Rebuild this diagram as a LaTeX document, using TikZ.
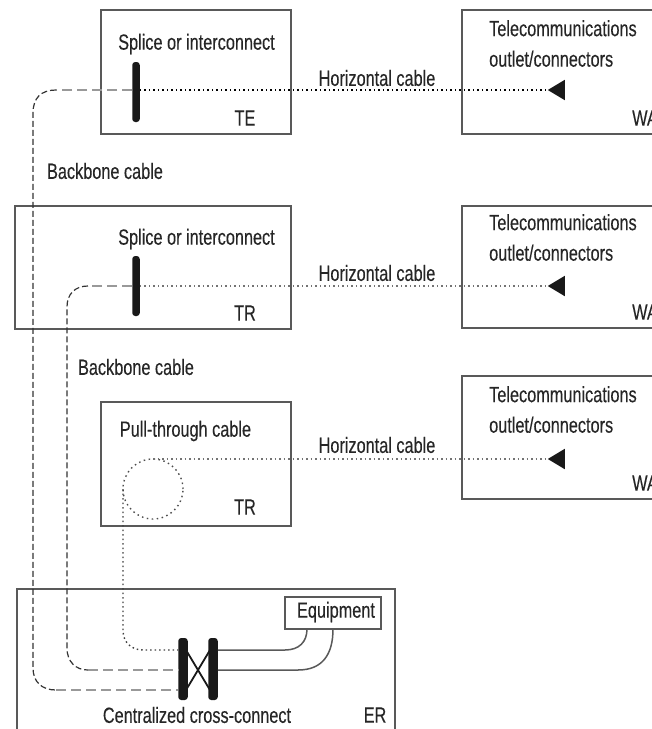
\documentclass[tikz,border=0pt]{standalone}
\usepackage{fontspec}
\usepackage{color}
\usetikzlibrary{shapes.geometric}
\setmainfont[FakeStretch=0.74,FakeBold=0.25]{Liberation Sans}
\definecolor{linegray}{gray}{.35}
\definecolor{cablegray}{gray}{.6}
\tikzset{
 room/.style={draw=linegray, line width=1.4pt, rectangle, inner sep=0pt},
 lbl/.style={inner sep=0pt, text=black!85, font=\fontsize{22}{30.5}\selectfont},
 bar/.style={rectangle, rounded corners=3pt, fill=black!90, inner sep=0pt, minimum width=7.5pt},
 jack/.style={isosceles triangle, isosceles triangle apex angle=62, shape border rotate=180, fill=black!90, inner sep=0pt, minimum height=17pt},
 hdash/.style={draw=cablegray, line width=2pt, dash pattern=on 10pt off 5pt},
 vdash/.style={draw=black!80, line width=1.2pt, dash pattern=on 6pt off 3pt},
 hdot/.style={draw=black!75, line width=1.4pt, dash pattern=on 1.5pt off 3pt},
 patch/.style={draw=linegray, line width=1.5pt},
}
\begin{document}
\begin{tikzpicture}[x=1pt, y=-1pt]
 \path[use as bounding box, clip] (0,0) rectangle (652,729);
 \node (te) [room, minimum width=190pt, minimum height=124pt] at (196,72) {};
 \node (tr1) [room, minimum width=276pt, minimum height=123pt] at (153,267.5) {};
 \node (tr2) [room, minimum width=190pt, minimum height=124pt] at (196,464) {};
 \node (wa1) [room, minimum width=240pt, minimum height=124pt] at (582,72) {};
 \node (wa2) [room, minimum width=240pt, minimum height=122pt] at (582,267) {};
 \node (wa3) [room, minimum width=240pt, minimum height=123pt] at (582,437.5) {};
 \node (er) [room, minimum width=378pt, minimum height=200pt] at (206,689) {};
 \node (equip) [room, minimum width=96pt, minimum height=32pt] at (333,613) {};

 \node (telbl) [lbl] at (196.5,44) {Splice or interconnect};
 \node (tr1lbl) [lbl] at (196.5,239) {Splice or interconnect};
 \node (tr2lbl) [lbl] at (185.5,431) {Pull-through cable};
 \node (tename) [lbl] at (245,118) {TE};
 \node (tr1name) [lbl] at (245,313) {TR};
 \node (tr2name) [lbl] at (245,507) {TR};
 \node (back1) [lbl] at (105,171) {Backbone cable};
 \node (back2) [lbl] at (136,367) {Backbone cable};
 \node (hor1) [lbl] at (377,78) {Horizontal cable};
 \node (hor2) [lbl] at (377,273) {Horizontal cable};
 \node (hor3) [lbl] at (377,445) {Horizontal cable};
 \node (tel1) [lbl, align=left, anchor=north west] at (489,20) {Telecommunications\\outlet/connectors};
 \node (tel2) [lbl, align=left, anchor=north west] at (489,214) {Telecommunications\\outlet/connectors};
 \node (tel3) [lbl, align=left, anchor=north west] at (489,386) {Telecommunications\\outlet/connectors};
 \node (wa1name) [lbl, anchor=west] at (632,118) {WA};
 \node (wa2name) [lbl, anchor=west] at (632,312) {WA};
 \node (wa3name) [lbl, anchor=west] at (632,483) {WA};
 \node (eqlbl) [lbl] at (336,612) {Equipment};
 \node (xlbl) [lbl] at (197,715) {Centralized cross-connect};
 \node (ername) [lbl] at (375,715) {ER};

 \node (tebar) [bar, minimum height=60pt] at (136,92) {};
 \node (tr1bar) [bar, minimum height=60pt] at (136,286) {};
 \node (xleft) [bar, minimum width=9.5pt, minimum height=62pt] at (183,669) {};
 \node (xright) [bar, minimum width=9.5pt, minimum height=62pt] at (213,669) {};
 \node (jack1) [jack] at (559,90) {};
 \node (jack2) [jack] at (559,286) {};
 \node (jack3) [jack] at (559,459) {};
 \node (loop) [circle, draw=black!70, line width=1.4pt, dash pattern=on 1.5pt off 3.5pt, minimum size=60pt, inner sep=0pt] at (153,489) {};

 \coordinate (outer1) at (56,90);
 \coordinate (outer2) at (33,113);
 \coordinate (outer3) at (33,668);
 \coordinate (outer4) at (56,690);
 \coordinate (mid1) at (88,286);
 \coordinate (mid2) at (67,307);
 \coordinate (mid3) at (67,648);
 \coordinate (mid4) at (88,670);
 \coordinate (top3) at (153,459);
 \coordinate (pull1) at (123,489);
 \coordinate (pull2) at (123,630);
 \coordinate (pull3) at (143,650);

 \draw[hdash] (tebar.west |- outer1) -- (outer1);
 \draw[vdash] (outer1) .. controls (41,90) and (33,98) .. (outer2) -- (outer3) .. controls (33,682) and (42,690) .. (outer4);
 \draw[hdash] (outer4) -- (outer4 -| xleft.west);
 \draw[hdash, line width=1.6pt] (tr1bar) -- (mid1);
 \draw[vdash] (mid1) .. controls (75,286) and (67,294) .. (mid2) -- (mid3) .. controls (67,662) and (76,670) .. (mid4);
 \draw[hdash] (mid4) -- (mid4 -| xleft.west);
 \draw[hdot, draw=black] (tebar.east |- jack1.west) -- (jack1.west);
 \draw[hdot, draw=black!55] (tr1bar) -- (jack2.west);
 \draw[hdot, draw=black!55] (top3) -- (jack3.west);
 \draw[hdot] (pull1) -- (pull2) .. controls (123,642) and (131,650) .. (pull3) -- (pull3 -| xleft.west);

 \draw[black!90, line width=1.8pt] (xleft.center |- 0,645) -- (xright.center |- 0,695);
 \draw[black!90, line width=1.8pt] (xleft.center |- 0,695) -- (xright.center |- 0,645);
 \draw[patch] (xright.east |- 0,650) -- (285,650) .. controls (299,650) and (307,642) .. (307,629);
 \draw[patch] (xright.east |- 0,670) -- (298,670) .. controls (322,670) and (333,655) .. (333,629);
\end{tikzpicture}
\end{document}
